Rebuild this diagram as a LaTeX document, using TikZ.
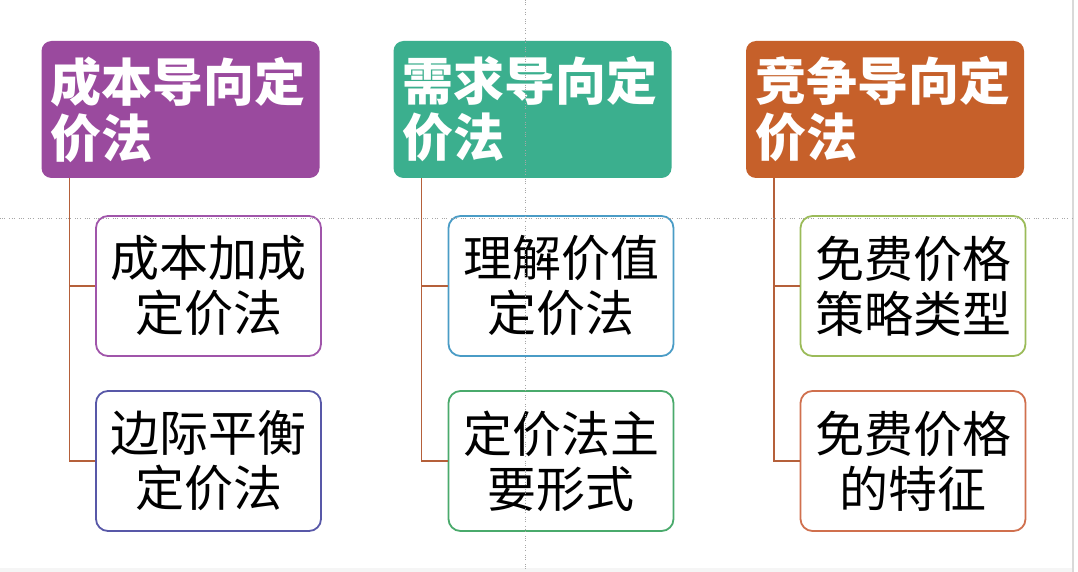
\documentclass[tikz,border=0pt]{standalone}
\usepackage{fontspec}
\newfontfamily\cjk{Noto Sans CJK SC}
\definecolor{cpurple}{HTML}{9A4A9E}
\definecolor{cteal}{HTML}{3BAF8E}
\definecolor{corange}{HTML}{C6602A}
\definecolor{bpurple}{HTML}{A055AA}
\definecolor{bindigo}{HTML}{5858A8}
\definecolor{bblue}{HTML}{4A9CC6}
\definecolor{bgreen}{HTML}{4AAA6C}
\definecolor{blime}{HTML}{9BBB59}
\definecolor{borange}{HTML}{D0704E}
\definecolor{cline}{HTML}{B5603A}
\tikzset{
  headbox/.style={rounded corners=10pt, minimum height=137pt, text width=260pt,
    inner xsep=9pt, inner ysep=0pt, align=left, text=white,
    font=\cjk\bfseries\fontsize{51}{56}\selectfont},
  childbox/.style={draw, line width=1.8pt, rounded corners=12pt, fill=white,
    minimum height=140pt, text width=205pt, inner xsep=10pt, inner ysep=0pt,
    align=center, text=black, font=\cjk\fontsize{49}{55}\selectfont},
  conn/.style={draw=cline, line width=1.6pt},
  guide/.style={draw=gray!70, line width=0.9pt,
    dash pattern=on 1pt off 1.2pt on 1pt off 1.2pt on 1pt off 4pt}
}
\begin{document}
\begin{tikzpicture}[x=1pt,y=-1pt]
\useasboundingbox (0,0) rectangle (1078,572);
\fill[white] (0,0) rectangle (1078,572);
\draw[gray!30, line width=1.5pt] (1073,0) -- (1073,572);
\fill[gray!8] (0,568) rectangle (1072,572);
% headers
\node[headbox, fill=cpurple] (h1) at (180.5,109.5) {成本导向定\\价法};
\node[headbox, fill=cteal]   (h2) at (532.5,109.5) {需求导向定\\价法};
\node[headbox, fill=corange] (h3) at (885,109.5)   {竞争导向定\\价法};
% children
\node[childbox, draw=bpurple] (c11) at (208.5,286) {成本加成\\定价法};
\node[childbox, draw=bindigo] (c12) at (208.5,461) {边际平衡\\定价法};
\node[childbox, draw=bblue]   (c21) at (561,286)   {理解价值\\定价法};
\node[childbox, draw=bgreen]  (c22) at (561,461)   {定价法主\\要形式};
\node[childbox, draw=blime]   (c31) at (913,286)   {免费价格\\策略类型};
\node[childbox, draw=borange] (c32) at (913,461)   {免费价格\\的特征};
% connectors
\draw[conn] ([xshift=28pt]h1.south west) |- (c12.west);
\draw[conn] ([xshift=28pt]h1.south west) |- (c11.west);
\draw[conn] ([xshift=28pt]h2.south west) |- (c22.west);
\draw[conn] ([xshift=28pt]h2.south west) |- (c21.west);
\draw[conn] ([xshift=28pt]h3.south west) |- (c32.west);
\draw[conn] ([xshift=28pt]h3.south west) |- (c31.west);
% guides
\draw[guide] (0,218) -- (1072,218);
\draw[guide] (525,0) -- (525,572);
\end{tikzpicture}
\end{document}
